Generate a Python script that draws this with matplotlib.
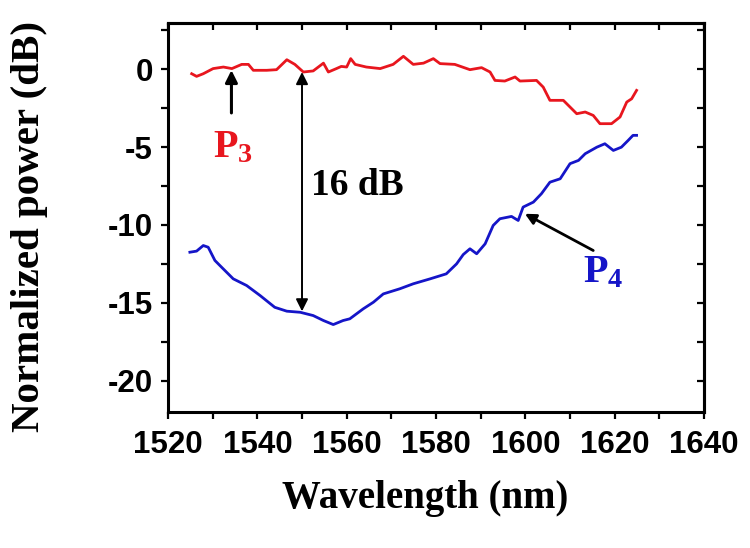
import matplotlib
matplotlib.use("Agg")
import matplotlib.pyplot as plt
from matplotlib.ticker import MultipleLocator

# Measured spectra: wavelength (nm) and normalized power (dB)
p3_wl = [1525.3, 1526.4, 1527.9, 1530.1, 1532.4, 1534.3, 1536.5, 1538.0, 1539.1,
         1542.1, 1544.3, 1546.6, 1548.4, 1550.3, 1552.5, 1554.8, 1555.9, 1557.7,
         1558.8, 1560.0, 1560.9, 1561.9, 1564.4, 1567.5, 1570.4, 1572.7, 1574.9,
         1577.2, 1579.4, 1580.9, 1584.2, 1587.6, 1590.2, 1592.1, 1593.2, 1595.4,
         1597.7, 1598.8, 1602.5, 1604.0, 1605.5, 1608.5, 1611.5, 1613.4, 1615.2,
         1616.7, 1619.3, 1621.2, 1622.7, 1623.8, 1624.9]
p3_db = [-0.28, -0.45, -0.28, 0.05, 0.15, 0.05, 0.32, 0.32, -0.06,
         -0.06, -0.02, 0.62, 0.32, -0.17, -0.10, 0.40, -0.17, 0.05,
         0.19, 0.15, 0.69, 0.32, 0.15, 0.05, 0.32, 0.84, 0.32,
         0.40, 0.69, 0.37, 0.32, -0.02, 0.11, -0.17, -0.71, -0.75,
         -0.49, -0.75, -0.71, -1.14, -1.99, -1.99, -2.85, -2.74, -2.96,
         -3.49, -3.49, -3.06, -2.10, -1.89, -1.35]

p4_wl = [1524.9, 1526.4, 1527.9, 1529.0, 1530.5, 1531.6, 1534.6, 1537.6, 1540.6,
         1543.9, 1546.6, 1549.6, 1552.5, 1554.8, 1557.0, 1559.2, 1560.7, 1563.7,
         1566.0, 1568.2, 1571.9, 1574.9, 1578.7, 1582.3, 1584.6, 1586.1, 1587.6,
         1589.1, 1591.0, 1592.8, 1594.3, 1596.9, 1598.4, 1599.5, 1601.8, 1603.6,
         1605.5, 1607.8, 1610.0, 1611.9, 1613.4, 1616.0, 1617.8, 1619.7, 1621.5,
         1623.0, 1624.1, 1624.9]
p4_db = [-11.75, -11.68, -11.32, -11.43, -12.28, -12.60, -13.46, -13.89, -14.53,
         -15.29, -15.54, -15.61, -15.82, -16.14, -16.40, -16.14, -16.03, -15.39,
         -14.96, -14.43, -14.10, -13.78, -13.46, -13.14, -12.50, -11.90, -11.53,
         -11.85, -11.21, -10.03, -9.60, -9.45, -9.71, -8.85, -8.53, -7.99,
         -7.25, -7.03, -6.06, -5.85, -5.42, -5.00, -4.78, -5.21, -5.00,
         -4.57, -4.24, -4.24]

x_ticks = [1520, 1540, 1560, 1580, 1600, 1620, 1640]
y_ticks = [0, -5, -10, -15, -20]

RED = "#e8161e"
BLUE = "#1515c8"

plt.rcParams["mathtext.fontset"] = "custom"
plt.rcParams["mathtext.rm"] = "Liberation Serif:bold"
plt.rcParams["mathtext.it"] = "Liberation Serif:bold"
plt.rcParams["mathtext.bf"] = "Liberation Serif:bold"

fig = plt.figure(figsize=(7.5, 5.48), dpi=100)
ax = fig.add_axes([0.224, 0.2487, 0.7147, 0.7099])

ax.plot(p3_wl, p3_db, color=RED, lw=2.0)
ax.plot(p4_wl, p4_db, color=BLUE, lw=2.0)

ax.set_xlim(1520, 1640)
ax.set_ylim(-22, 3)
ax.set_xticks(x_ticks)
ax.set_yticks(y_ticks)
ax.xaxis.set_minor_locator(MultipleLocator(10))
ax.yaxis.set_minor_locator(MultipleLocator(2.5))

for s in ax.spines.values():
    s.set_linewidth(2.2)

tick_font = dict(family="Liberation Sans", weight="bold", size=22.5)
ax.tick_params(which="both", direction="out", length=5, width=1.6,
               top=False, right=False)
ax.tick_params(axis="x", pad=8)
ax.tick_params(axis="y", pad=6)
ax.set_xticklabels([str(v) for v in x_ticks], **tick_font)
ax.set_yticklabels([str(v) for v in y_ticks], **tick_font)

# inward ticks on the top and right edges
axt = ax.secondary_xaxis("top")
axt.set_xticks(x_ticks)
axt.xaxis.set_minor_locator(MultipleLocator(10))
axt.tick_params(which="both", direction="in", length=5, width=1.6, labeltop=False)
axr = ax.secondary_yaxis("right")
axr.set_yticks(y_ticks)
axr.yaxis.set_minor_locator(MultipleLocator(2.5))
axr.tick_params(which="both", direction="in", length=5, width=1.6, labelright=False)
for sec in (axt, axr):
    for s in sec.spines.values():
        s.set_linewidth(2.2)

ax.set_xlabel("Wavelength (nm)", family="Liberation Serif", weight="bold", size=28)
ax.xaxis.set_label_coords(0.479, -0.175)
ax.set_ylabel("Normalized power (dB)", family="Liberation Serif", weight="bold", size=29.5)
ax.yaxis.set_label_coords(-0.224, 0.477)

# 16 dB extinction marker
ax.annotate("", xy=(1550.0, -15.55), xytext=(1550.0, -0.17),
            arrowprops=dict(arrowstyle="<|-|>", color="black", lw=1.4,
                            mutation_scale=18, shrinkA=0, shrinkB=0))
ax.text(1552.0, -8.1, "16 dB", family="Liberation Serif", weight="bold",
        size=27, color="black", ha="left", va="baseline")

# port labels
ax.annotate("", xy=(1534.2, -0.05), xytext=(1534.2, -2.8),
            arrowprops=dict(arrowstyle="-|>", color="black", lw=2.2,
                            mutation_scale=18, shrinkA=0, shrinkB=0))
ax.text(1530.0, -5.66, r"$P_3$", color=RED, size=29, ha="left", va="baseline")

ax.annotate("", xy=(1599.9, -9.28), xytext=(1615.2, -11.64),
            arrowprops=dict(arrowstyle="-|>", color="black", lw=2.0,
                            mutation_scale=16, shrinkA=0, shrinkB=0))
ax.text(1612.9, -13.7, r"$P_4$", color=BLUE, size=29, ha="left", va="baseline")

fig.savefig("out.png", dpi=100)
